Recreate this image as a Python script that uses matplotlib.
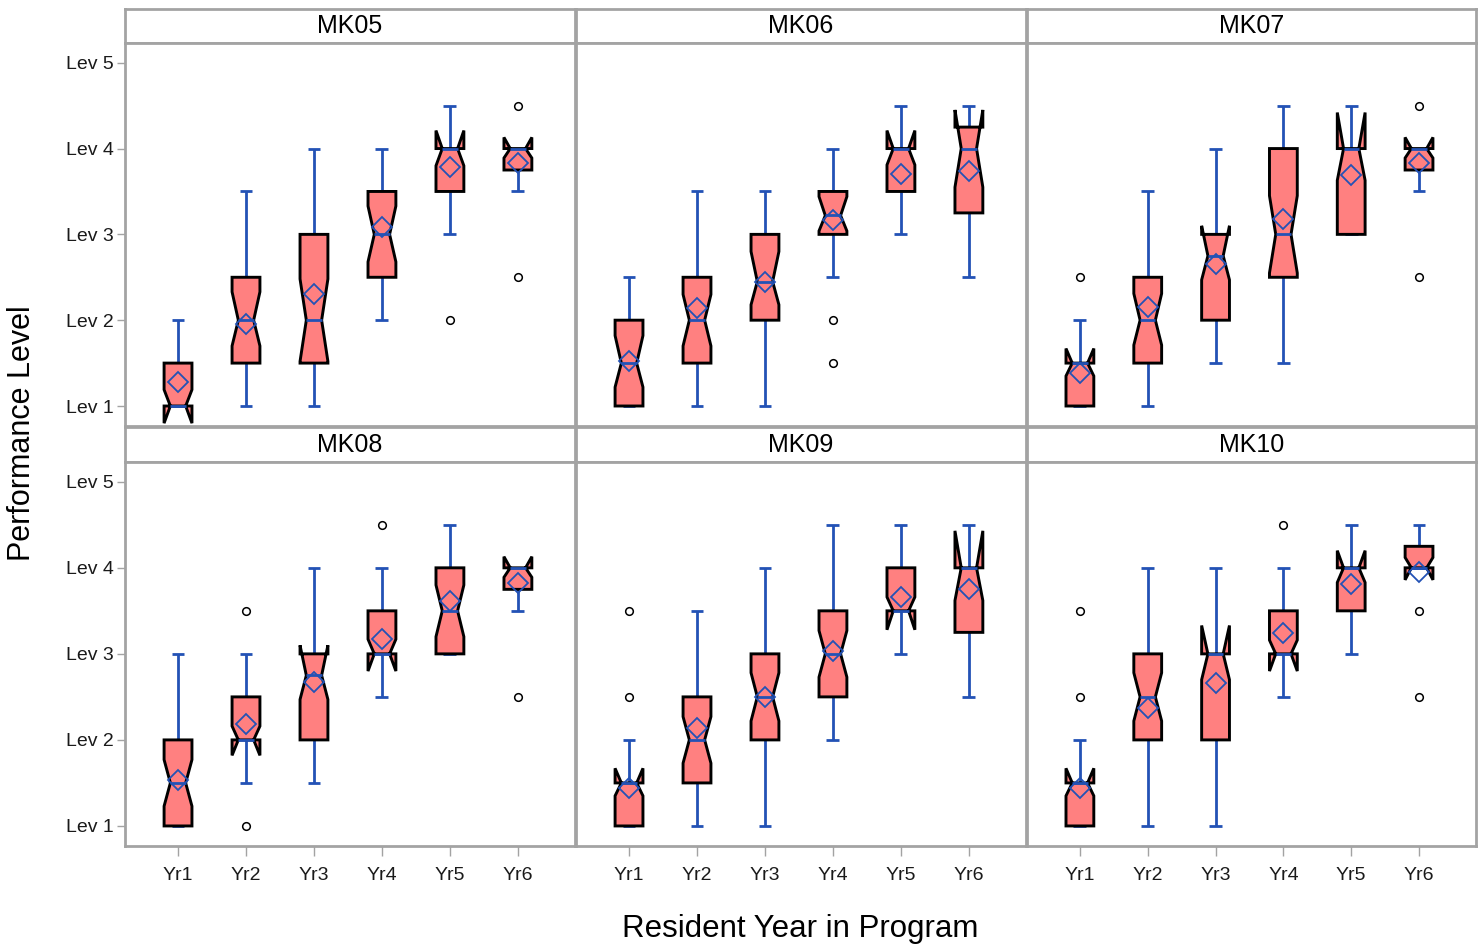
import matplotlib
matplotlib.use("Agg")
import matplotlib.pyplot as plt
from matplotlib.patches import Polygon

plt.rcParams['font.family'] = ['Liberation Sans', 'DejaVu Sans']

# ---------------- data ----------------
panels = ["MK05", "MK06", "MK07", "MK08", "MK09", "MK10"]
years = ["Yr1", "Yr2", "Yr3", "Yr4", "Yr5", "Yr6"]
level_ticks = [1, 2, 3, 4, 5]
level_labels = ["Lev 1", "Lev 2", "Lev 3", "Lev 4", "Lev 5"]

q1 = {
    "MK05": [1.0, 1.5, 1.5, 2.5, 3.5, 3.75],
    "MK06": [1.0, 1.5, 2.0, 3.0, 3.5, 3.25],
    "MK07": [1.0, 1.5, 2.0, 2.5, 3.0, 3.75],
    "MK08": [1.0, 2.0, 2.0, 3.0, 3.0, 3.75],
    "MK09": [1.0, 1.5, 2.0, 2.5, 3.5, 3.25],
    "MK10": [1.0, 2.0, 2.0, 3.0, 3.5, 4.0],
}
median = {
    "MK05": [1.0, 2.0, 2.0, 3.0, 4.0, 4.0],
    "MK06": [1.5, 2.0, 2.45, 3.22, 4.0, 4.0],
    "MK07": [1.5, 2.0, 2.75, 3.0, 4.0, 4.0],
    "MK08": [1.5, 2.0, 2.75, 3.0, 3.5, 4.0],
    "MK09": [1.5, 2.0, 2.5, 3.0, 3.5, 4.0],
    "MK10": [1.5, 2.5, 3.0, 3.0, 4.0, 4.0],
}
q3 = {
    "MK05": [1.5, 2.5, 3.0, 3.5, 4.0, 4.0],
    "MK06": [2.0, 2.5, 3.0, 3.5, 4.0, 4.25],
    "MK07": [1.5, 2.5, 3.0, 4.0, 4.0, 4.0],
    "MK08": [2.0, 2.5, 3.0, 3.5, 4.0, 4.0],
    "MK09": [1.5, 2.5, 3.0, 3.5, 4.0, 4.0],
    "MK10": [1.5, 3.0, 3.0, 3.5, 4.0, 4.25],
}
notch_lo = {
    "MK05": [0.80, 1.70, 1.52, 2.68, 3.80, 3.89],
    "MK06": [1.22, 1.70, 2.18, 3.04, 3.81, 3.55],
    "MK07": [1.35, 1.71, 2.47, 2.55, 3.63, 3.89],
    "MK08": [1.23, 1.82, 2.47, 2.80, 3.20, 3.89],
    "MK09": [1.35, 1.73, 2.22, 2.73, 3.28, 3.62],
    "MK10": [1.35, 2.22, 2.70, 2.80, 3.83, 3.86],
}
notch_hi = {
    "MK05": [1.19, 2.33, 2.48, 3.33, 4.21, 4.13],
    "MK06": [1.82, 2.30, 2.80, 3.44, 4.21, 4.45],
    "MK07": [1.67, 2.31, 3.10, 3.45, 4.42, 4.13],
    "MK08": [1.77, 2.16, 3.10, 3.17, 3.80, 4.13],
    "MK09": [1.67, 2.27, 2.78, 3.27, 3.66, 4.43],
    "MK10": [1.67, 2.78, 3.33, 3.16, 4.20, 4.12],
}
whisker_lo = {
    "MK05": [1.0, 1.0, 1.0, 2.0, 3.0, 3.5],
    "MK06": [1.0, 1.0, 1.0, 2.5, 3.0, 2.5],
    "MK07": [1.0, 1.0, 1.5, 1.5, 3.0, 3.5],
    "MK08": [1.0, 1.5, 1.5, 2.5, 3.0, 3.5],
    "MK09": [1.0, 1.0, 1.0, 2.0, 3.0, 2.5],
    "MK10": [1.0, 1.0, 1.0, 2.5, 3.0, 4.0],
}
whisker_hi = {
    "MK05": [2.0, 3.5, 4.0, 4.0, 4.5, 4.0],
    "MK06": [2.5, 3.5, 3.5, 4.0, 4.5, 4.5],
    "MK07": [2.0, 3.5, 4.0, 4.5, 4.5, 4.0],
    "MK08": [3.0, 3.0, 4.0, 4.0, 4.5, 4.0],
    "MK09": [2.0, 3.5, 4.0, 4.5, 4.5, 4.5],
    "MK10": [2.0, 4.0, 4.0, 4.0, 4.5, 4.5],
}
mean = {
    "MK05": [1.28, 1.95, 2.30, 3.09, 3.78, 3.83],
    "MK06": [1.53, 2.14, 2.44, 3.17, 3.70, 3.74],
    "MK07": [1.38, 2.15, 2.66, 3.18, 3.69, 3.83],
    "MK08": [1.53, 2.18, 2.67, 3.17, 3.62, 3.82],
    "MK09": [1.44, 2.14, 2.50, 3.03, 3.66, 3.75],
    "MK10": [1.44, 2.37, 2.66, 3.24, 3.81, 3.95],
}
outliers = {
    "MK05": [[], [], [], [], [2.0], [4.5, 2.5]],
    "MK06": [[], [], [], [2.0, 1.5], [], []],
    "MK07": [[2.5], [], [], [], [], [4.5, 2.5]],
    "MK08": [[], [3.5, 1.0], [], [4.5], [], [2.5]],
    "MK09": [[3.5, 2.5], [], [], [], [], []],
    "MK10": [[3.5, 2.5], [], [], [4.5], [], [3.5, 2.5]],
}

# ---------------- style ----------------
FILL = "#FF8080"
BLUE = "#2352B5"
FRAME = "#A3A3A3"
TEXT = "#1A1A1A"
BOX_W = 0.41
CAP_W = 0.19
WAIST = 0.55

W, H = 1483, 947
fig = plt.figure(figsize=(W / 100, H / 100), dpi=100)
fig.patch.set_facecolor("white")


def px_axes(x0, y0, x1, y1):
    return fig.add_axes([x0 / W, 1 - y1 / H, (x1 - x0) / W, (y1 - y0) / H])


def style_frame(ax):
    for s in ax.spines.values():
        s.set_color(FRAME)
        s.set_linewidth(2.0)


def draw_box(ax, x, lo1, med, hi3, nlo, nhi, wlo, whi, mn, outs):
    hw = BOX_W / 2
    ww = hw * WAIST
    cw = CAP_W / 2
    lkw = dict(color=BLUE, lw=2.0, solid_capstyle="butt", zorder=2)
    ax.plot([x, x], [hi3, whi], **lkw)
    ax.plot([x, x], [wlo, lo1], **lkw)
    ax.plot([x - cw, x + cw], [whi, whi], **lkw)
    ax.plot([x - cw, x + cw], [wlo, wlo], **lkw)
    verts = [(x - hw, lo1), (x - hw, nlo), (x - ww, med), (x - hw, nhi),
             (x - hw, hi3), (x + hw, hi3), (x + hw, nhi), (x + ww, med),
             (x + hw, nlo), (x + hw, lo1)]
    ax.add_patch(Polygon(verts, closed=True, facecolor=FILL, edgecolor="black",
                         lw=2.1, joinstyle="miter", zorder=3))
    ax.plot([x - ww, x + ww], [med, med], color=BLUE, lw=2.0,
            solid_capstyle="butt", zorder=4)
    ax.plot([x], [mn], marker="D", ms=10.5, mfc="none", mec=BLUE, mew=1.3,
            linestyle="none", zorder=5)
    if outs:
        ax.plot([x] * len(outs), outs, marker="o", ms=5.5, mfc="white",
                mec="black", mew=1.1, linestyle="none", zorder=5)


cols = [(125, 575), (576, 1026), (1027, 1476)]
rows = [(9, 43, 426), (427, 462, 846)]
xpos = list(range(1, len(years) + 1))

for i, name in enumerate(panels):
    r, c = divmod(i, 3)
    x0, x1 = cols[c]
    st, sb, db = rows[r]
    # strip header
    sax = px_axes(x0, st, x1, sb)
    sax.set_xticks([])
    sax.set_yticks([])
    style_frame(sax)
    sax.text(0.5, 0.5, name, ha="center", va="center", fontsize=18,
             color="black", transform=sax.transAxes)
    # data panel
    ax = px_axes(x0, sb, x1, db)
    style_frame(ax)
    ax.set_xlim(0.22, 6.84)
    ax.set_ylim(0.767, 5.23)
    for j in range(len(years)):
        draw_box(ax, xpos[j], q1[name][j], median[name][j], q3[name][j],
                 notch_lo[name][j], notch_hi[name][j], whisker_lo[name][j],
                 whisker_hi[name][j], mean[name][j], outliers[name][j])
    ax.set_yticks(level_ticks)
    ax.set_xticks(xpos)
    if c == 0:
        ax.set_yticklabels(level_labels, fontsize=14, color=TEXT)
        ax.tick_params(axis="y", length=6, width=1, color=FRAME, pad=2)
    else:
        ax.tick_params(axis="y", left=False, labelleft=False)
    if r == 1:
        ax.set_xticklabels(years, fontsize=14, color=TEXT)
        ax.tick_params(axis="x", length=7, width=1, color=FRAME, pad=8)
    else:
        ax.tick_params(axis="x", bottom=False, labelbottom=False)

fig.text(22 / W, 1 - 433 / H, "Performance Level", rotation=90,
         ha="center", va="center", fontsize=22, color="black")
fig.text(800 / W, 1 - 929 / H, "Resident Year in Program",
         ha="center", va="center", fontsize=22.5, color="black")

fig.savefig("out.png", dpi=100, facecolor="white")
